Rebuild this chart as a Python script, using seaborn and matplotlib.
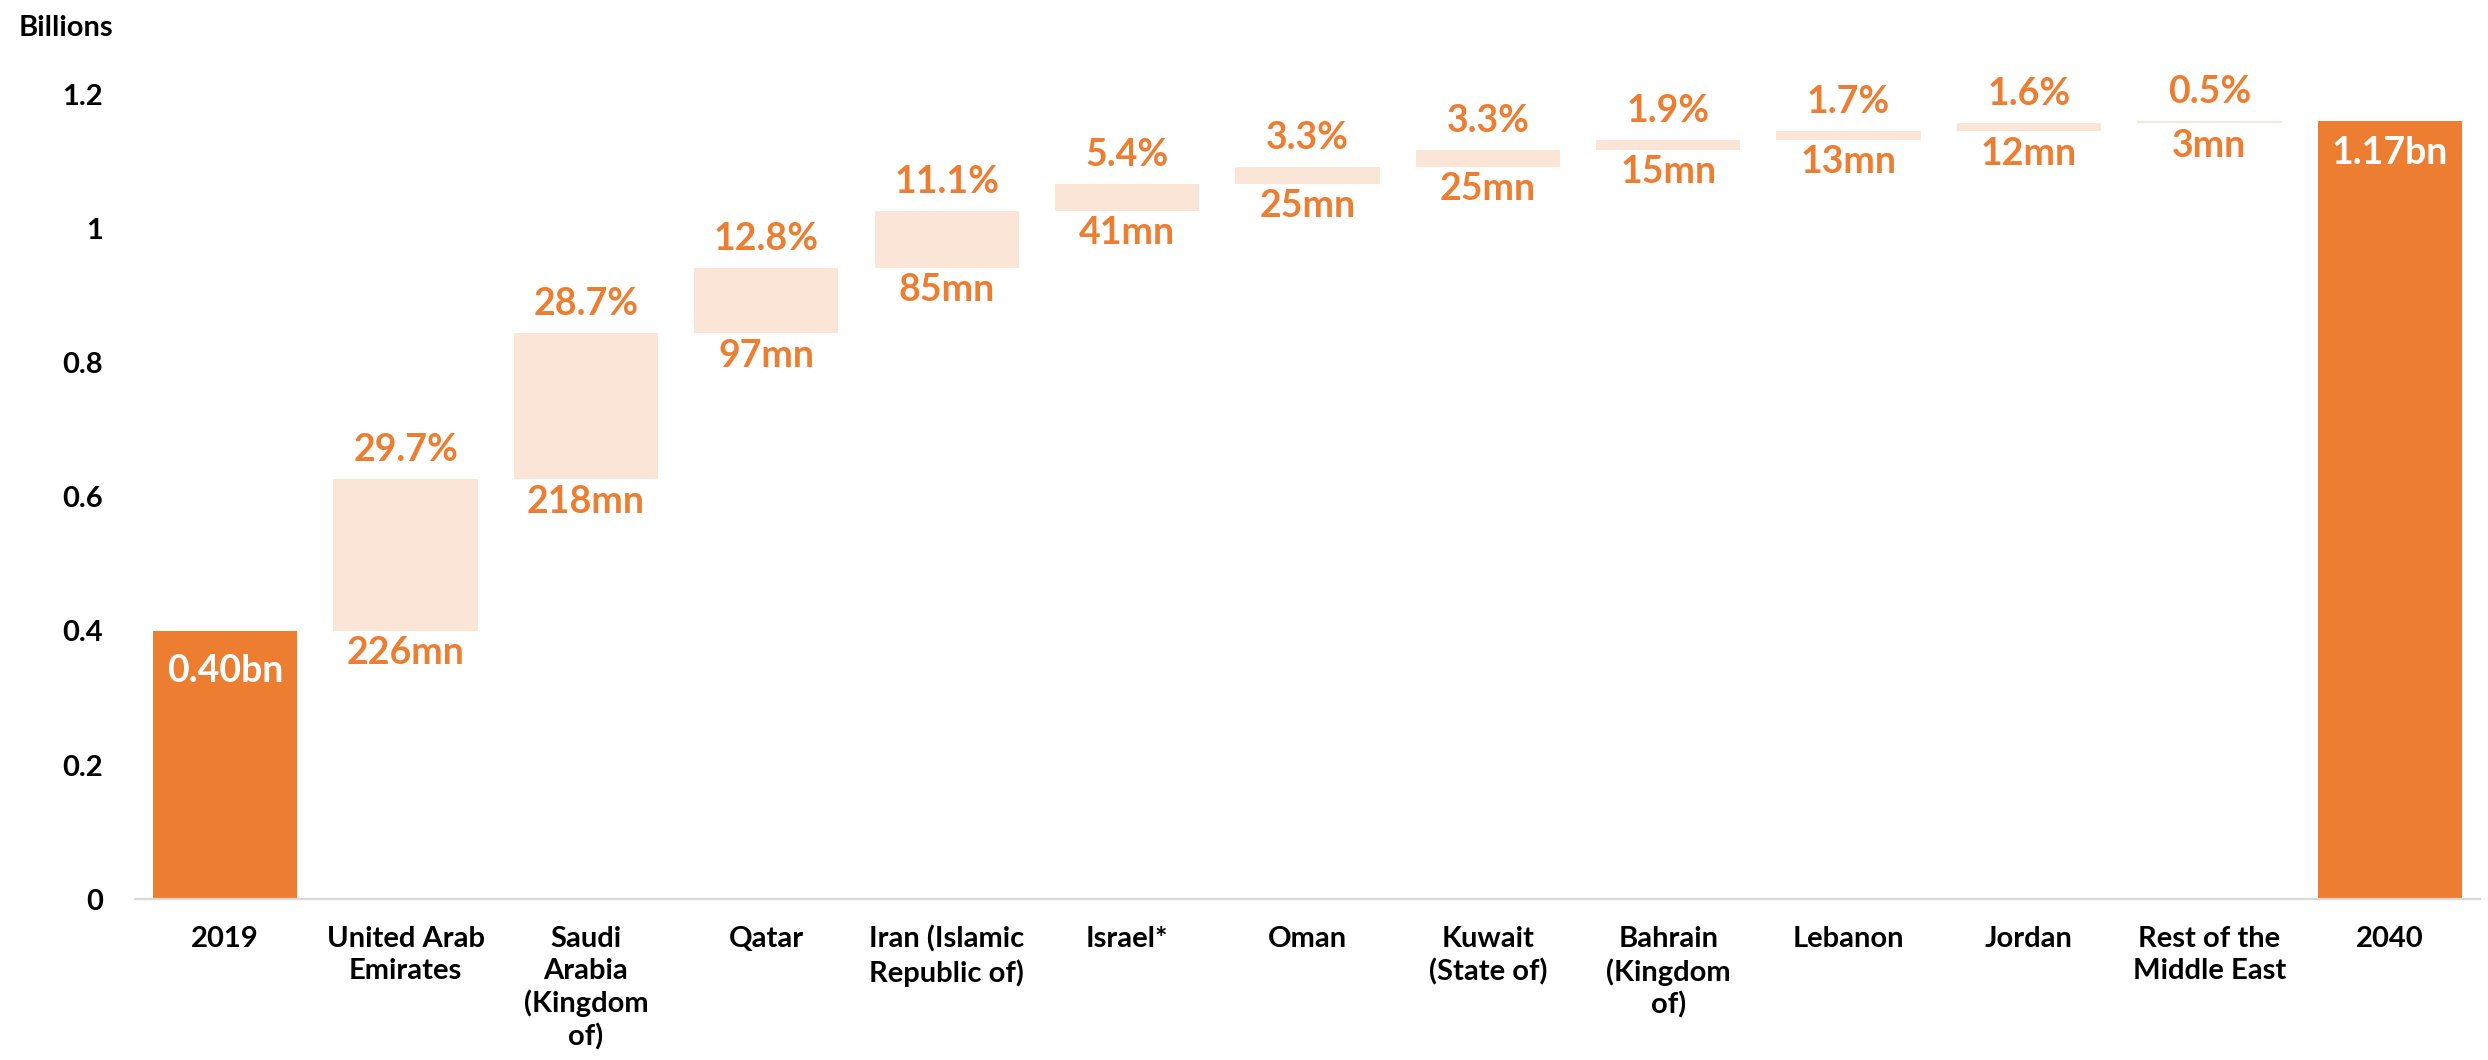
import numpy as np
import pandas as pd
import matplotlib
matplotlib.use("Agg")
import matplotlib.pyplot as plt
import seaborn as sns

# ---------------- data ----------------
categories = ["2019", "United Arab\nEmirates", "Saudi\nArabia\n(Kingdom\nof)", "Qatar",
              "Iran (Islamic\nRepublic of)", "Israel*", "Oman", "Kuwait\n(State of)",
              "Bahrain\n(Kingdom\nof)", "Lebanon", "Jordan", "Rest of the\nMiddle East", "2040"]
start_bn = 0.40
increments_mn = [226, 218, 97, 85, 41, 25, 25, 15, 13, 12, 3]
shares_pct = [29.7, 28.7, 12.8, 11.1, 5.4, 3.3, 3.3, 1.9, 1.7, 1.6, 0.5]
start_label = "0.40bn"
total_label = "1.17bn"
y_ticks = [0, 0.2, 0.4, 0.6, 0.8, 1.0, 1.2]
y_tick_labels = ["0", "0.2", "0.4", "0.6", "0.8", "1", "1.2"]

# ---------------- derived waterfall geometry ----------------
inc = np.array(increments_mn) / 1000.0
cum = start_bn + np.cumsum(inc)
tops = np.concatenate([[start_bn], cum, [cum[-1]]])
bottoms = np.concatenate([[0.0], [start_bn], cum[:-1], [0.0]])
heights = tops - bottoms

ORANGE = "#ED7D31"
LIGHT = "#FBE5D6"
colors = [ORANGE] + [LIGHT] * len(increments_mn) + [ORANGE]

df = pd.DataFrame({"category": categories, "height": heights})

sns.set_style("white")
plt.rcParams["font.family"] = ["Lato", "DejaVu Sans"]
plt.rcParams["font.weight"] = "bold"

W, H = 2488, 1060
fig = plt.figure(figsize=(W / 100, H / 100), dpi=100)
left, right, bottom_px, top_px = 135, 2480, 899.3, 94.4
ax = fig.add_axes([left / W, (H - bottom_px) / H, (right - left) / W, (bottom_px - top_px) / H])

sns.barplot(data=df, x="category", y="height", order=categories, bottom=bottoms,
            color=ORANGE, saturation=1, facecolor=colors, edgecolor="none",
            linewidth=0, width=0.8, errorbar=None, ax=ax)

ax.set_xlim(-0.5, len(categories) - 0.5)
ax.set_ylim(0, 1.2)
ax.set_yticks(y_ticks)
ax.set_yticklabels(y_tick_labels)
ax.set_xlabel("")
ax.set_ylabel("")
for s in ["top", "right", "left"]:
    ax.spines[s].set_visible(False)
ax.spines["bottom"].set_color("#D9D9D9")
ax.spines["bottom"].set_linewidth(1.6)
ax.tick_params(axis="both", length=0)
ax.tick_params(axis="y", pad=23, labelsize=21)
ax.tick_params(axis="x", pad=19, labelsize=21)
for lbl in ax.get_xticklabels() + ax.get_yticklabels():
    lbl.set_fontweight("bold")
    lbl.set_color("black")
for lbl in ax.get_xticklabels():
    lbl.set_linespacing(1.28)

# labels for floating bars
for k, (pct, mn) in enumerate(zip(shares_pct, increments_mn)):
    i = k + 1
    ax.annotate(f"{pct:.1f}%", xy=(i, tops[i]), xytext=(0, 13), textcoords="offset points",
                ha="center", va="baseline", fontsize=27, fontweight="bold", color=ORANGE,
                annotation_clip=False)
    ax.annotate(f"{mn}mn", xy=(i, bottoms[i]), xytext=(0, -24), textcoords="offset points",
                ha="center", va="baseline", fontsize=27, fontweight="bold", color=ORANGE,
                annotation_clip=False)

ax.annotate(start_label, xy=(0, tops[0]), xytext=(0, -37), textcoords="offset points",
            ha="center", va="baseline", fontsize=27, fontweight="bold", color="white")
ax.annotate(total_label, xy=(len(categories) - 1, tops[-1]), xytext=(0, -31),
            textcoords="offset points", ha="center", va="baseline", fontsize=27,
            fontweight="bold", color="white")

fig.text(19 / W, 1 - 28 / H, "Billions", ha="left", va="center", fontsize=21,
         fontweight="bold", color="black")

fig.savefig("out.png", dpi=100, facecolor="white")
